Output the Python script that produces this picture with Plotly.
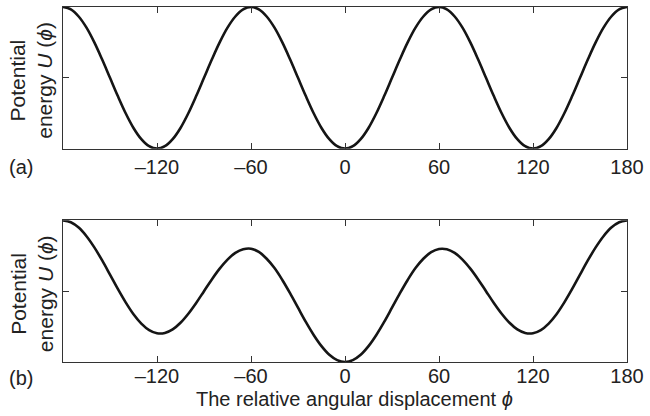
import plotly.graph_objects as go

# relative angular displacement (degrees)
phi = [-180, -175, -170, -165, -160, -155, -150, -145, -140, -135, -130, -125,
       -120, -115, -110, -105, -100, -95, -90, -85, -80, -75, -70, -65,
       -60, -55, -50, -45, -40, -35, -30, -25, -20, -15, -10, -5,
       0, 5, 10, 15, 20, 25, 30, 35, 40, 45, 50, 55,
       60, 65, 70, 75, 80, 85, 90, 95, 100, 105, 110, 115,
       120, 125, 130, 135, 140, 145, 150, 155, 160, 165, 170, 175, 180]

# (a) symmetric threefold potential (normalised)
u_a = [1.0, .983, .933, .854, .75, .629, .5, .371, .25, .146, .067, .017,
       0.0, .017, .067, .146, .25, .371, .5, .629, .75, .854, .933, .983,
       1.0, .983, .933, .854, .75, .629, .5, .371, .25, .146, .067, .017,
       0.0, .017, .067, .146, .25, .371, .5, .629, .75, .854, .933, .983,
       1.0, .983, .933, .854, .75, .629, .5, .371, .25, .146, .067, .017,
       0.0, .017, .067, .146, .25, .371, .5, .629, .75, .854, .933, .983, 1.0]

# (b) asymmetric potential (normalised)
u_b = [1.0, .987, .949, .888, .809, .717, .617, .516, .421, .337, .271, .225,
       .203, .205, .230, .277, .341, .417, .500, .583, .659, .723, .770, .796,
       .800, .777, .729, .663, .579, .484, .383, .283, .191, .112, .051, .013,
       0.0, .013, .051, .112, .191, .283, .383, .484, .579, .663, .729, .775,
       .798, .796, .770, .723, .659, .583, .500, .417, .341, .277, .230, .205,
       .203, .225, .271, .337, .421, .516, .617, .717, .809, .888, .949, .987, 1.0]

xtick_vals = [-120, -60, 0, 60, 120, 180]
xtick_text = ["\u2013120", "\u201360", "0", "60", "120", "180"]
ytick_vals = [0.5]

FONT = "Liberation Sans, Arial, Helvetica, sans-serif"
LINE = "#333333"
CURVE = "#151515"
TXT = "#222222"

fig = go.Figure()
fig.add_trace(go.Scatter(x=phi, y=u_a, mode="lines", line=dict(color=CURVE, width=2.6, shape="spline"),
                         xaxis="x", yaxis="y", showlegend=False, hoverinfo="skip"))
fig.add_trace(go.Scatter(x=phi, y=u_b, mode="lines", line=dict(color=CURVE, width=2.6, shape="spline"),
                         xaxis="x2", yaxis="y2", showlegend=False, hoverinfo="skip"))

xcommon = dict(range=[-180, 180], tickvals=xtick_vals, ticktext=xtick_text,
               ticks="inside", ticklen=6, tickcolor=LINE, tickwidth=1,
               showline=True, linecolor=LINE, linewidth=1, mirror="ticks",
               showgrid=False, zeroline=False,
               tickfont=dict(family=FONT, size=20, color=TXT))
ycommon = dict(range=[0, 1], tickvals=ytick_vals, showticklabels=False,
               ticks="inside", ticklen=6, tickcolor=LINE, tickwidth=1,
               showline=True, linecolor=LINE, linewidth=1, mirror="ticks",
               showgrid=False, zeroline=False)

top_dom = [0.601, 1.0]
bot_dom = [0.0, 0.399]

fig.update_layout(
    width=650, height=416,
    margin=dict(l=63, r=19, t=6, b=54),
    paper_bgcolor="white", plot_bgcolor="white",
    xaxis=dict(anchor="y", domain=[0, 1], **xcommon),
    yaxis=dict(anchor="x", domain=top_dom, **ycommon),
    xaxis2=dict(anchor="y2", domain=[0, 1], ticklabelstandoff=-4, **xcommon),
    yaxis2=dict(anchor="x2", domain=bot_dom, **ycommon),
)

tf = dict(family=FONT, size=21, color=TXT)
ylab2 = "energy <i>U</i> (<i>\u03d5</i>)"
for dom in (top_dom, bot_dom):
    yc = (dom[0] + dom[1]) / 2 - 0.008
    fig.add_annotation(text="Potential", x=(17.5 - 63) / 568, y=yc, xref="paper", yref="paper",
                       textangle=-90, showarrow=False, font=tf, xanchor="center", yanchor="middle")
    fig.add_annotation(text=ylab2, x=(45 - 63) / 568, y=yc, xref="paper", yref="paper",
                       textangle=-90, showarrow=False, font=tf, xanchor="center", yanchor="middle")

lf = dict(family=FONT, size=20, color=TXT)
fig.add_annotation(text="(a)", x=(7 - 63) / 568, y=(362 - 166.5) / 356, xref="paper", yref="paper",
                   showarrow=False, font=lf, xanchor="left", yanchor="middle")
fig.add_annotation(text="(b)", x=(7 - 63) / 568, y=(362 - 378) / 356, xref="paper", yref="paper",
                   showarrow=False, font=lf, xanchor="left", yanchor="middle")
fig.add_annotation(text="The relative angular displacement <i>\u03d5</i>", x=(356.5 - 63) / 568,
                   y=(362 - 399) / 356, xref="paper", yref="paper",
                   showarrow=False, font=dict(family=FONT, size=20, color=TXT),
                   xanchor="center", yanchor="middle")

fig.write_html("out.html")
